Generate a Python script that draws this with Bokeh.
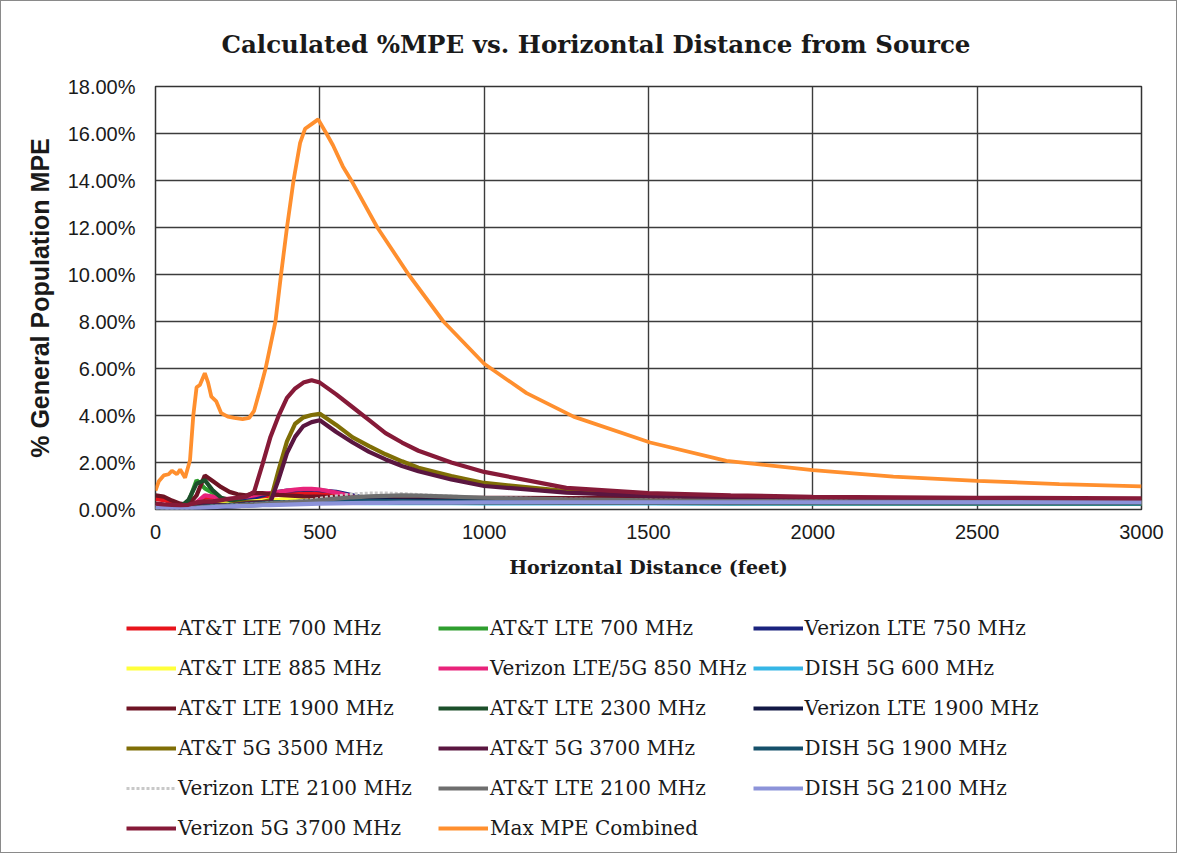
from bokeh.plotting import figure
from bokeh.layouts import column
from bokeh.models import Range1d, FixedTicker, PrintfTickFormatter, Legend, LegendItem
from bokeh.embed import file_html
from bokeh.resources import INLINE

# ---------------- data (percent of General Population MPE) ----------------
distance_ft = [0, 25, 50, 75, 100, 125, 150, 175, 200, 225, 250, 275, 300, 325, 350,
               375, 400, 425, 450, 475, 500, 550, 600, 650, 700, 750, 800, 900, 1000,
               1250, 1500, 1750, 2000, 2500, 3000]

att_lte_700_a = [0.45, 0.40, 0.30, 0.20, 0.15, 0.30, 0.50, 0.50, 0.40, 0.38, 0.40, 0.45, 0.50, 0.55, 0.60,
                 0.62, 0.65, 0.68, 0.70, 0.70, 0.68, 0.60, 0.50, 0.42, 0.38, 0.36, 0.35, 0.34, 0.33,
                 0.32, 0.32, 0.31, 0.31, 0.30, 0.30]
att_lte_700_b = [0.05, 0.05, 0.05, 0.10, 0.30, 1.25, 0.90, 0.70, 0.35, 0.30, 0.30, 0.30, 0.30, 0.30, 0.30,
                 0.35, 0.40, 0.42, 0.45, 0.45, 0.45, 0.42, 0.38, 0.35, 0.33, 0.32, 0.31, 0.30, 0.30,
                 0.29, 0.28, 0.28, 0.27, 0.27, 0.26]
vz_lte_750 = [0.10, 0.12, 0.08, 0.06, 0.10, 0.20, 0.30, 0.28, 0.30, 0.35, 0.40, 0.45, 0.50, 0.60, 0.70,
              0.75, 0.80, 0.82, 0.85, 0.85, 0.82, 0.75, 0.60, 0.45, 0.40, 0.38, 0.37, 0.36, 0.35,
              0.34, 0.33, 0.33, 0.32, 0.32, 0.31]
att_lte_885 = [0.10, 0.10, 0.08, 0.08, 0.10, 0.20, 0.30, 0.30, 0.30, 0.30, 0.30, 0.32, 0.35, 0.38, 0.40,
               0.42, 0.45, 0.48, 0.50, 0.50, 0.50, 0.45, 0.40, 0.36, 0.34, 0.33, 0.32, 0.31, 0.30,
               0.29, 0.28, 0.28, 0.27, 0.27, 0.26]
vz_850 = [0.20, 0.20, 0.15, 0.12, 0.15, 0.30, 0.60, 0.55, 0.45, 0.45, 0.50, 0.55, 0.60, 0.68, 0.70,
          0.75, 0.80, 0.85, 0.88, 0.88, 0.85, 0.72, 0.55, 0.42, 0.38, 0.36, 0.35, 0.34, 0.33,
          0.33, 0.32, 0.32, 0.31, 0.31, 0.30]
dish_600 = [0.08, 0.08, 0.06, 0.05, 0.06, 0.10, 0.15, 0.15, 0.18, 0.20, 0.20, 0.22, 0.24, 0.25, 0.26,
            0.27, 0.28, 0.28, 0.29, 0.29, 0.29, 0.28, 0.28, 0.27, 0.27, 0.27, 0.27, 0.27, 0.26,
            0.26, 0.26, 0.25, 0.25, 0.25, 0.24]
att_lte_1900 = [0.60, 0.55, 0.38, 0.25, 0.20, 0.60, 1.45, 1.20, 0.95, 0.75, 0.65, 0.60, 0.70, 0.70, 0.65,
                0.62, 0.60, 0.58, 0.56, 0.55, 0.55, 0.53, 0.52, 0.50, 0.50, 0.50, 0.50, 0.50, 0.50,
                0.49, 0.48, 0.47, 0.46, 0.45, 0.44]
att_lte_2300 = [0.05, 0.05, 0.05, 0.10, 0.40, 1.10, 1.25, 0.80, 0.50, 0.40, 0.35, 0.32, 0.30, 0.30, 0.30,
                0.30, 0.30, 0.30, 0.30, 0.30, 0.30, 0.30, 0.30, 0.30, 0.30, 0.30, 0.30, 0.29, 0.29,
                0.28, 0.28, 0.27, 0.27, 0.26, 0.26]
vz_lte_1900 = [0.15, 0.10, 0.06, 0.05, 0.05, 0.05, 0.06, 0.08, 0.10, 0.12, 0.14, 0.16, 0.18, 0.20, 0.22,
               0.24, 0.26, 0.28, 0.30, 0.32, 0.34, 0.37, 0.40, 0.40, 0.40, 0.39, 0.39, 0.38, 0.38,
               0.37, 0.36, 0.36, 0.35, 0.34, 0.34]
att_5g_3500 = [0.05, 0.05, 0.05, 0.05, 0.08, 0.15, 0.30, 0.25, 0.20, 0.20, 0.25, 0.30, 0.30, 0.32, 0.40,
               1.70, 2.90, 3.65, 3.92, 4.02, 4.07, 3.60, 3.07, 2.70, 2.35, 2.05, 1.78, 1.42, 1.13,
               0.78, 0.62, 0.55, 0.50, 0.45, 0.42]
att_5g_3700 = [0.05, 0.05, 0.05, 0.05, 0.06, 0.12, 0.25, 0.22, 0.18, 0.18, 0.22, 0.26, 0.28, 0.30, 0.32,
               1.30, 2.40, 3.10, 3.55, 3.72, 3.80, 3.30, 2.85, 2.45, 2.13, 1.85, 1.63, 1.28, 1.00,
               0.72, 0.58, 0.52, 0.48, 0.44, 0.41]
dish_1900 = [0.05, 0.05, 0.04, 0.04, 0.05, 0.08, 0.12, 0.14, 0.16, 0.18, 0.20, 0.22, 0.24, 0.26, 0.28,
             0.30, 0.32, 0.33, 0.34, 0.35, 0.35, 0.36, 0.36, 0.36, 0.36, 0.36, 0.35, 0.35, 0.34,
             0.33, 0.33, 0.32, 0.32, 0.31, 0.31]
vz_lte_2100 = [0.05, 0.05, 0.04, 0.04, 0.05, 0.08, 0.12, 0.14, 0.16, 0.18, 0.20, 0.22, 0.24, 0.26, 0.28,
               0.30, 0.32, 0.34, 0.38, 0.42, 0.48, 0.58, 0.66, 0.70, 0.70, 0.68, 0.64, 0.57, 0.52,
               0.44, 0.40, 0.37, 0.35, 0.33, 0.32]
att_lte_2100 = [0.05, 0.05, 0.04, 0.04, 0.05, 0.08, 0.10, 0.12, 0.14, 0.16, 0.18, 0.20, 0.22, 0.24, 0.26,
                0.28, 0.30, 0.32, 0.34, 0.36, 0.40, 0.46, 0.52, 0.56, 0.58, 0.60, 0.59, 0.55, 0.50,
                0.43, 0.39, 0.36, 0.35, 0.33, 0.32]
dish_2100 = [0.10, 0.08, 0.06, 0.05, 0.05, 0.06, 0.08, 0.10, 0.12, 0.13, 0.14, 0.15, 0.16, 0.18, 0.19,
             0.20, 0.21, 0.22, 0.23, 0.24, 0.25, 0.26, 0.27, 0.28, 0.28, 0.29, 0.29, 0.29, 0.30,
             0.30, 0.30, 0.30, 0.30, 0.30, 0.30]
vz_5g_3700 = [0.25, 0.22, 0.20, 0.18, 0.20, 0.30, 0.35, 0.35, 0.40, 0.45, 0.50, 0.55, 0.75, 1.90, 3.10,
              4.00, 4.75, 5.15, 5.40, 5.50, 5.40, 4.90, 4.35, 3.80, 3.25, 2.85, 2.50, 2.00, 1.60,
              0.92, 0.70, 0.60, 0.54, 0.50, 0.47]

max_distance_ft = [0, 10, 25, 40, 50, 65, 75, 90, 105, 115, 125, 135, 150, 160, 170, 185, 200, 220,
                   240, 265, 285, 300, 320, 335, 350, 365, 382, 400, 420, 440, 455, 475, 495, 520,
                   540, 570, 600, 675, 770, 876, 1000, 1129, 1272, 1505, 1737, 2000, 2245, 2500,
                   2750, 3000]
max_combined = [0.8, 1.2, 1.45, 1.5, 1.65, 1.5, 1.7, 1.35, 2.1, 4.0, 5.2, 5.3, 5.8, 5.4, 4.8, 4.6, 4.1,
                3.95, 3.9, 3.85, 3.9, 4.2, 5.2, 6.0, 7.0, 8.0, 10.0, 12.0, 14.0, 15.6, 16.2, 16.4,
                16.6, 16.0, 15.5, 14.6, 13.9, 12.0, 10.0, 8.0, 6.2, 4.95, 3.95, 2.85, 2.07, 1.68, 1.4,
                1.22, 1.08, 0.98]

series_names = ["AT&T LTE 700 MHz", "AT&T LTE 700 MHz", "Verizon LTE 750 MHz",
                "AT&T LTE 885 MHz", "Verizon LTE/5G 850 MHz", "DISH 5G 600 MHz",
                "AT&T LTE 1900 MHz", "AT&T LTE 2300 MHz", "Verizon LTE 1900 MHz",
                "AT&T 5G 3500 MHz", "AT&T 5G 3700 MHz", "DISH 5G 1900 MHz",
                "Verizon LTE 2100 MHz", "AT&T LTE 2100 MHz", "DISH 5G 2100 MHz",
                "Verizon 5G 3700 MHz", "Max MPE Combined"]
series_values = [att_lte_700_a, att_lte_700_b, vz_lte_750, att_lte_885, vz_850, dish_600,
                 att_lte_1900, att_lte_2300, vz_lte_1900, att_5g_3500, att_5g_3700, dish_1900,
                 vz_lte_2100, att_lte_2100, dish_2100, vz_5g_3700, max_combined]
series_colors = ["#E8141C", "#2E9E2E", "#1A237E", "#FFFF3A", "#E8237A", "#35B6E6",
                 "#6E1424", "#1C4F2A", "#121845", "#7F6E06", "#5A1640", "#15506A",
                 "#C8C8C8", "#6E6E6E", "#8C93D9", "#861A38", "#FF8F2E"]


def style_for(name, vals, col):
    if name == "Verizon LTE 2100 MHz":
        return dict(line_color=col, line_width=3, line_dash="3 2")
    if vals is max_combined:
        return dict(line_color=col, line_width=3.8)
    return dict(line_color=col, line_width=4.2)


# ---------------- chart figure ----------------
p = figure(width=1175, height=590, output_backend="svg", toolbar_location=None,
           x_range=Range1d(0, 3000), y_range=Range1d(0, 18),
           min_border_left=154, min_border_right=35, min_border_top=85, min_border_bottom=82)
p.frame_align = False

p.title.text = "Calculated %MPE vs. Horizontal Distance from Source"
p.title.text_font = "DejaVu Serif"
p.title.text_font_style = "bold"
p.title.text_font_size = "24.5px"
p.title.align = "left"
p.title.offset = 66
p.title.vertical_align = "top"
p.title.standoff = 52
p.title.text_color = "#1a1a1a"

p.outline_line_color = "#333333"
p.outline_line_width = 1.5
p.background_fill_color = "white"
p.border_fill_color = "white"

for g in (p.xgrid, p.ygrid):
    g.grid_line_color = "#3c3c3c"
    g.grid_line_width = 1.4
p.xaxis.ticker = FixedTicker(ticks=[0, 500, 1000, 1500, 2000, 2500, 3000])
p.yaxis.ticker = FixedTicker(ticks=list(range(0, 19, 2)))
p.yaxis.formatter = PrintfTickFormatter(format="%.2f%%")

for ax in (p.xaxis, p.yaxis):
    ax.axis_line_color = None
    ax.major_tick_line_color = None
    ax.minor_tick_line_color = None
    ax.major_tick_out = 0
    ax.major_tick_in = 0
    ax.major_label_text_font = "Liberation Sans"
    ax.major_label_text_font_size = "20px"
    ax.major_label_text_color = "#1a1a1a"

p.yaxis.major_label_standoff = 20
p.xaxis.major_label_standoff = 15
p.xaxis.axis_label = "Horizontal Distance (feet)"
p.xaxis.axis_label_text_font = "DejaVu Serif"
p.xaxis.axis_label_text_font_style = "bold"
p.xaxis.axis_label_text_font_size = "19px"
p.xaxis.axis_label_standoff = 14
p.xaxis.axis_label_text_color = "#1a1a1a"
p.yaxis.axis_label = "% General Population MPE"
p.yaxis.axis_label_text_font = "Liberation Sans"
p.yaxis.axis_label_text_font_style = "bold"
p.yaxis.axis_label_text_font_size = "25px"
p.yaxis.axis_label_standoff = 11
p.yaxis.axis_label_text_color = "#1a1a1a"

for name, vals, col in zip(series_names, series_values, series_colors):
    xs = max_distance_ft if vals is max_combined else distance_ft
    p.line(xs, vals, **style_for(name, vals, col))

# ---------------- legend strip (same series, view scrolled away from the data) ----------------
lp = figure(width=1175, height=261, output_backend="svg", toolbar_location=None,
            x_range=Range1d(-20, -10), y_range=Range1d(-20, -10),
            min_border_left=0, min_border_right=0, min_border_top=0, min_border_bottom=0)
lp.frame_align = False
lp.xaxis.visible = False
lp.yaxis.visible = False
lp.xgrid.visible = False
lp.ygrid.visible = False
lp.outline_line_color = None
lp.background_fill_color = "white"
lp.border_fill_color = "white"

items = []
for name, vals, col in zip(series_names, series_values, series_colors):
    xs = max_distance_ft if vals is max_combined else distance_ft
    r = lp.line(xs, vals, **style_for(name, vals, col))
    items.append(LegendItem(label=name, renderers=[r]))

leg = Legend(items=items, location=(125, 7), orientation="horizontal", ncols=3,
             glyph_width=50, glyph_height=34, label_height=34, label_width=254,
             spacing=6, label_standoff=2, padding=0, margin=0,
             border_line_color=None, background_fill_alpha=0,
             label_text_font="DejaVu Serif", label_text_font_size="20px",
             label_text_color="#1a1a1a")
lp.add_layout(leg, "center")

layout = column(p, lp, spacing=0, styles={"border": "1.5px solid #8a8a8a", "background": "white"})

open("out.html", "w").write(file_html(layout, INLINE))
